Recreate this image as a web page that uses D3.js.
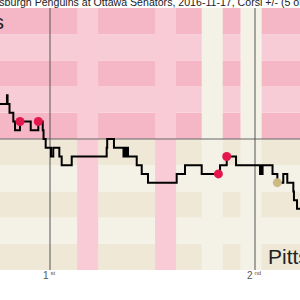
<!DOCTYPE html>
<html>
<head>
<meta charset="utf-8">
<script src="https://cdn.jsdelivr.net/npm/d3@7"></script>
<style>
  body { margin: 0; background: #fff; }
  svg { display: block; font-family: "Liberation Sans", Arial, sans-serif; }
</style>
</head>
<body>
<svg id="chart" width="300" height="300"></svg>
<script>
// Corsi +/- running total, game minutes on x
var eventTimes = [14.15, 15.80, 15.86, 16.05, 16.42, 16.59, 17.07, 18.12, 18.86, 19.29, 19.37, 19.58,
  20.10, 20.32, 20.91, 21.14, 22.12, 25.53, 25.58, 26.24, 27.17, 27.27, 27.39, 27.49, 27.61,
  28.46, 28.95, 29.56, 32.36, 33.17, 34.80, 36.59, 37.24, 38.15, 40.49, 40.58, 40.66, 40.74,
  41.71, 42.18, 42.76, 43.15, 43.74, 43.80, 44.10, 45.40];
var corsiValues = [4, 5, 4, 3, 2, 1, 2, 1, 2, 1, 0, -1,
  -2, -1, -2, -3, -2, -1, 0, -1, -2, -1, -2, -1, -2,
  -3, -4, -5, -4, -3, -4, -3, -2, -3, -4, -3, -4, -3,
  -4, -5, -4, -5, -6, -7, -8, -8];

// goals
var homeGoalTimes = [17.07, 18.86, 36.43, 37.24];
var homeGoalValues = [2, 2, -4, -2];
var awayGoalTimes = [42.18];
var awayGoalValues = [-5];

// power play windows: [start, end, team]
var ppStarts = [22.65, 30.25, 34.80, 38.58];
var ppEnds = [24.70, 32.30, 36.85, 40.65];
var ppTeams = ["home", "home", "away", "away"];

var periodEnds = [20, 40];
var periodLabels = ["1", "2"];
var periodSuffix = ["st", "nd"];

var titleText = "Pittsburgh Penguins at Ottawa Senators, 2016-11-17, Corsi +/- (5 on 5)";
var homeTeam = "Ottawa Senators";
var awayTeam = "Pittsburgh Penguins";

var svg = d3.select("#chart");
var width = 300, plotTop = 8, plotBottom = 270;

var x = d3.scaleLinear().domain([20, 40]).range([50, 255]);
var y = d3.scaleLinear().domain([-15, 15]).range([plotBottom, plotTop]);

var xLeft = x.invert(-5), xRight = x.invert(width + 5);

// horizontal stripes, 3 corsi units each
var stripes = d3.range(-15, 15, 3);
svg.selectAll("rect.stripe")
  .data(stripes)
  .enter()
  .append("rect")
  .attr("x", x(xLeft))
  .attr("width", x(xRight) - x(xLeft))
  .attr("y", function(d) { return y(d + 3); })
  .attr("height", function(d) { return y(d) - y(d + 3); })
  .attr("fill", function(d) {
    var n = Math.round(d / 3);
    var dark = d >= 0 ? (n % 2 == 0) : (Math.abs(n) % 2 == 1);
    if (d >= 0) return dark ? "#f5b6c6" : "#f8ccd7";
    return dark ? "#efe8d7" : "#f4f1e6";
  });

// power play columns
svg.selectAll("rect.pp")
  .data(ppStarts)
  .enter()
  .append("rect")
  .attr("x", function(d) { return x(d); })
  .attr("width", function(d, i) { return x(ppEnds[i]) - x(d); })
  .attr("y", plotTop)
  .attr("height", plotBottom - plotTop)
  .attr("fill", function(d, i) { return ppTeams[i] == "home" ? "#f8cbd6" : "#f4f1e6"; });

// zero line
svg.append("line")
  .attr("x1", 0).attr("x2", width)
  .attr("y1", y(0)).attr("y2", y(0))
  .attr("stroke", "#666").attr("stroke-width", 1);

// period lines
svg.selectAll("line.period")
  .data(periodEnds)
  .enter()
  .append("line")
  .attr("x1", function(d) { return x(d); })
  .attr("x2", function(d) { return x(d); })
  .attr("y1", plotTop).attr("y2", plotBottom)
  .attr("stroke", "#555").attr("stroke-width", 1);

var plabels = svg.selectAll("text.period")
  .data(periodEnds)
  .enter()
  .append("text")
  .attr("x", function(d) { return x(d) - 1; })
  .attr("y", 279)
  .attr("text-anchor", "middle")
  .attr("font-size", 10)
  .attr("fill", "#555")
  .text(function(d, i) { return periodLabels[i]; });
plabels.append("tspan")
  .attr("dx", 2)
  .attr("dy", -4)
  .attr("font-size", 6)
  .text(function(d, i) { return periodSuffix[i]; });

// team names
svg.append("text")
  .attr("x", 4).attr("y", 28.5)
  .attr("text-anchor", "end")
  .attr("font-size", 21)
  .attr("fill", "#222")
  .text(homeTeam);
svg.append("text")
  .attr("x", 268).attr("y", 263.5)
  .attr("font-size", 21)
  .attr("fill", "#222")
  .text(awayTeam);

// the corsi step line
var pts = eventTimes.map(function(t, i) { return [t, corsiValues[i]]; });
var line = d3.line()
  .x(function(d) { return x(d[0]); })
  .y(function(d) { return y(d[1]); })
  .curve(d3.curveStepAfter);
svg.append("path")
  .datum(pts)
  .attr("d", line)
  .attr("fill", "none")
  .attr("stroke", "#000")
  .attr("stroke-width", 2);

// goal dots
svg.selectAll("circle.home")
  .data(homeGoalTimes)
  .enter()
  .append("circle")
  .attr("cx", function(d) { return x(d); })
  .attr("cy", function(d, i) { return y(homeGoalValues[i]); })
  .attr("r", 4.5)
  .attr("fill", "#e3174b");
svg.selectAll("circle.away")
  .data(awayGoalTimes)
  .enter()
  .append("circle")
  .attr("cx", function(d) { return x(d); })
  .attr("cy", function(d, i) { return y(awayGoalValues[i]); })
  .attr("r", 4.5)
  .attr("fill", "#cdb982");

// title, runs off both sides
svg.append("text")
  .attr("x", -16).attr("y", 6)
  .attr("font-size", 10.6)
  .attr("fill", "#222")
  .text(titleText);
</script>
</body>
</html>
